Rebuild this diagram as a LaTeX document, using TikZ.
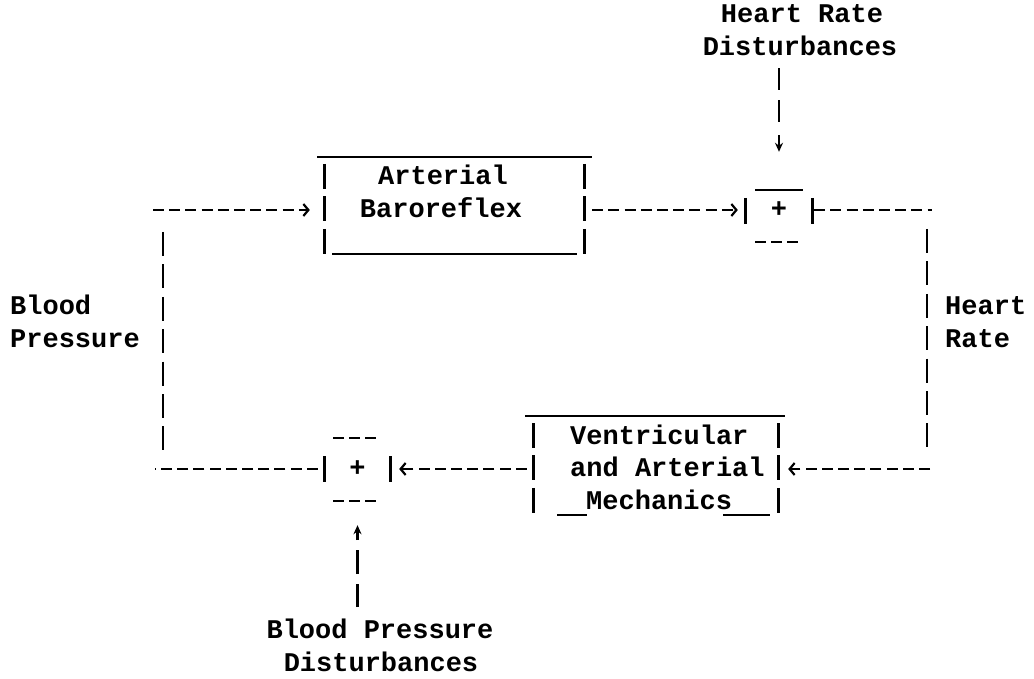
\documentclass[tikz,border=0pt]{standalone}
\usepackage{fontspec}
\usetikzlibrary{arrows.meta}
\newfontfamily\typewr{Liberation Mono}
\tikzset{
  tw/.style={font={\typewr\bfseries\fontsize{27pt}{32.4pt}\selectfont}, inner sep=0pt},
  frame/.style={inner sep=0pt, minimum height=40pt},
  hdash/.style={line width=2.2pt, dash pattern=on 11pt off 5.2pt},
  vdash/.style={line width=2.8pt, dash pattern=on 24pt off 8.4pt},
  boxbar/.style={line width=2.8pt, dash pattern=on 25pt off 7.4pt},
  bar/.style={line width=2.8pt},
  rule/.style={line width=1.8pt},
  chev/.style={-{Straight Barb[length=5pt,width=12pt,sep=3pt]}},
  tip/.style={-{Stealth[length=9pt,width=8pt]}},
}
\begin{document}
\begin{tikzpicture}[x=1pt, y=-1pt]
\useasboundingbox (0,0) rectangle (1034,679);
% outer labels
\node[tw, anchor=base] (hrd1) at (802,23) {Heart Rate};
\node[tw, anchor=base] (hrd2) at (800,55.5) {Disturbances};
\node[tw, anchor=base] (bpd1) at (380,638.5) {Blood Pressure};
\node[tw, anchor=base] (bpd2) at (381,671) {Disturbances};
\node[tw, anchor=base west] (bp1) at (10,314.5) {Blood};
\node[tw, anchor=base west] (bp2) at (10,347) {Pressure};
\node[tw, anchor=base west] (hr1) at (945,314.5) {Heart};
\node[tw, anchor=base west] (hr2) at (945,347) {Rate};
% arterial baroreflex
\node[frame, minimum width=259pt, minimum height=100pt] (baro) at (454.5,207) {};
\node[tw, anchor=base] (baro1) at (443,185) {Arterial};
\node[tw, anchor=base] (baro2) at (441,217.5) {Baroreflex};
\draw[rule] (317,157) -- (592,157);
\draw[rule] (332,254) -- (577,254);
\draw[boxbar] (baro.west |- 0,164) -- (baro.west |- 0,257);
\draw[boxbar] (baro.east |- 0,164) -- (baro.east |- 0,257);
% ventricular and arterial mechanics
\node[frame, minimum width=244pt, minimum height=100pt] (vam) at (656,469) {};
\node[tw, anchor=base west] (vam1) at (570,444) {Ventricular};
\node[tw, anchor=base west] (vam2) at (570,476.5) {and Arterial};
\node[tw, anchor=base west] (vam3) at (586,509) {Mechanics};
\draw[rule] (525,416) -- (785,416);
\draw[rule] (557,515) -- (587,515);
\draw[rule] (723,515) -- (770,515);
\draw[boxbar] (vam.west |- 0,423) -- (vam.west |- 0,516);
\draw[boxbar] (vam.east |- 0,423) -- (vam.east |- 0,516);
% summing points
\node[tw, frame, minimum width=66pt] (sumhr) at (779,210) {+};
\draw[rule] (755,190) -- (803,190);
\draw[hdash] (755,242) -- (800,242);
\draw[bar] (sumhr.west |- 0,198) -- (sumhr.west |- 0,224);
\draw[bar] (sumhr.east |- 0,198) -- (sumhr.east |- 0,224);
\node[tw, frame, minimum width=65pt] (sumbp) at (357.5,469) {+};
\draw[hdash] (333,438) -- (380,438);
\draw[hdash] (333,501) -- (380,501);
\draw[bar] (sumbp.west |- 0,456) -- (sumbp.west |- 0,482);
\draw[bar] (sumbp.east |- 0,456) -- (sumbp.east |- 0,482);
% loop
\coordinate (tl) at (153,210);
\coordinate (tr) at (932,210);
\coordinate (br) at (930,469);
\coordinate (bl) at (155,469);
\draw[hdash, chev, shorten >=12pt] (tl) -- (tl -| baro.west);
\draw[hdash, chev, shorten <=8pt, shorten >=5pt] (baro.east |- sumhr.west) -- (sumhr.west);
\draw[hdash, shorten <=2pt] (sumhr.east) -- (tr);
\draw[vdash] (927,229) -- (927,452);
\draw[hdash, chev, shorten >=7pt] (br) -- (vam.east);
\draw[hdash, chev, shorten <=7pt, shorten >=6pt] (vam.west) -- (sumbp.east);
\draw[hdash, shorten <=7pt] (sumbp.west) -- (bl);
\draw[vdash] (163,232) -- (163,450);
% disturbances
\draw[tip, line width=2.6pt, dash pattern=on 22pt off 10pt on 22pt off 13pt on 20pt off 20pt,
  shorten <=12.5pt, shorten >=38pt] (sumhr.north |- hrd2.south) -- (sumhr.north);
\draw[tip, line width=2.6pt, dash pattern=on 23pt off 10pt on 24pt off 10pt on 20pt off 20pt,
  shorten <=11.5pt, shorten >=36pt] (sumbp.south |- bpd1.north) -- (sumbp.south);
\end{tikzpicture}
\end{document}
